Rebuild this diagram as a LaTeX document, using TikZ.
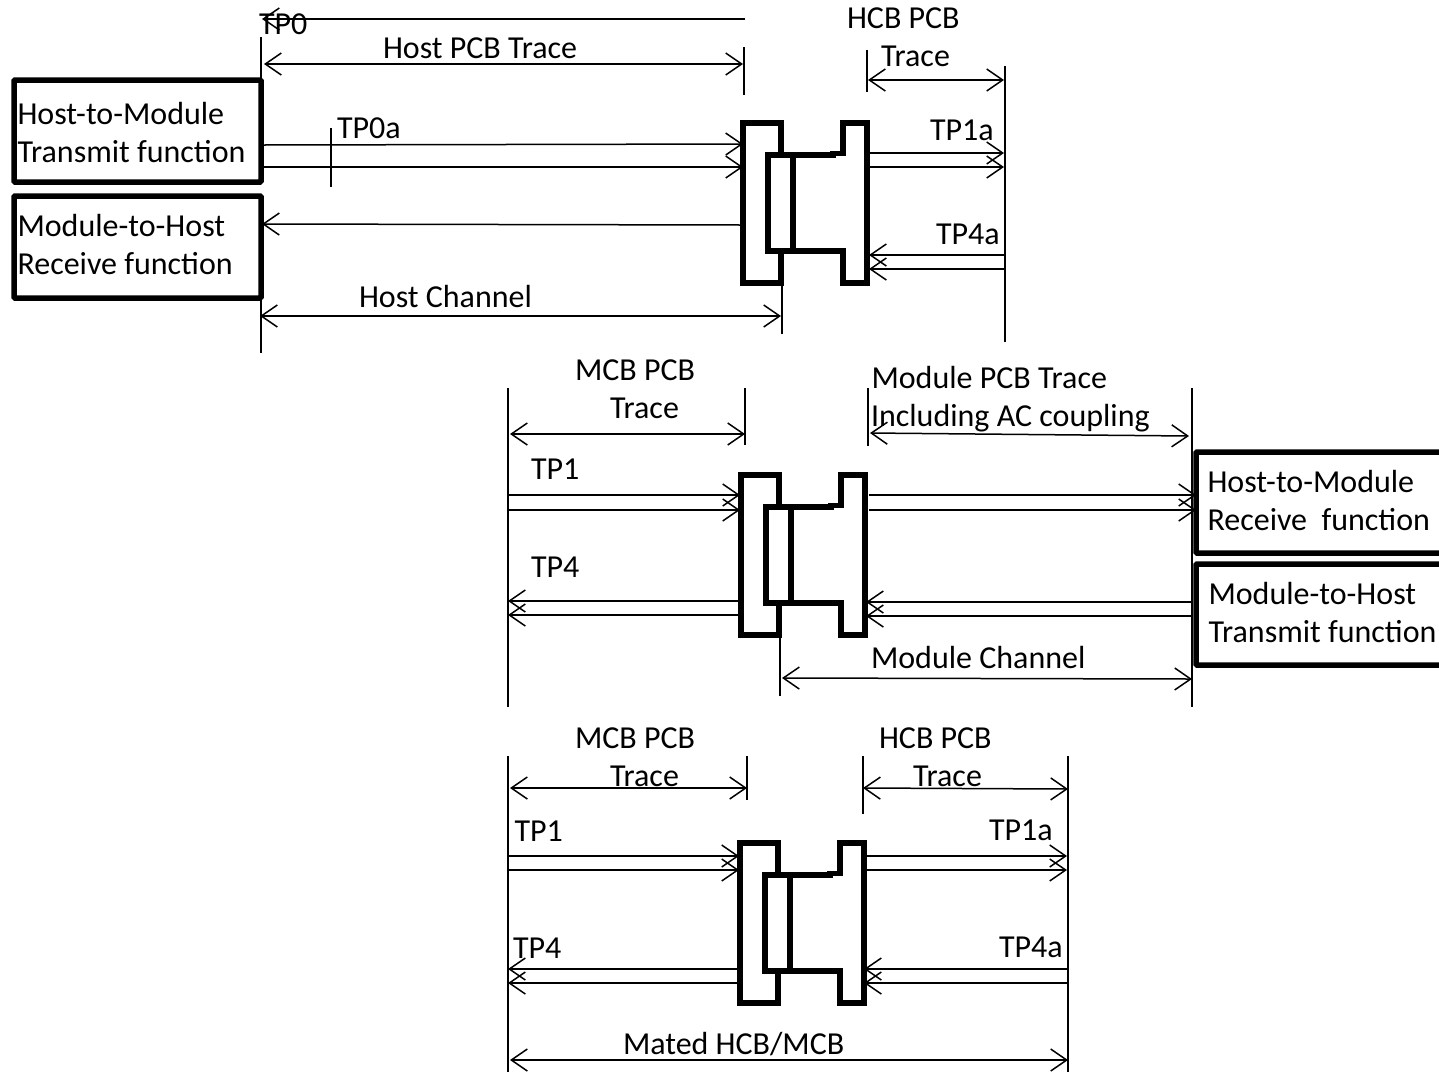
\documentclass[tikz,border=0pt]{standalone}
\usepackage{fontspec}
\setmainfont{Carlito}
\usetikzlibrary{arrows.meta}
\tikzset{
  x=1pt,y=-1pt,
  wire/.style={line width=1.5pt,black},
  sig/.style={wire,-{Straight Barb[length=16pt,width=22pt,line width=1.5pt]}},
  dim/.style={wire,{Straight Barb[length=16pt,width=22pt,line width=1.5pt]}-{Straight Barb[length=16pt,width=22pt,line width=1.5pt]}},
  ref/.style={line width=2.4pt,black},
  thin ref/.style={line width=1.6pt,black},
  fbox/.style={draw=black,line width=5.5pt,rounded corners=1pt,fill=white,inner sep=0pt,outer sep=0pt,anchor=north west},
  conn/.style={draw=black,line width=5.5pt,fill=white,line join=miter},
  lbl/.style={font=\fontsize{32}{38}\selectfont,anchor=base west,inner sep=0pt,outer sep=0pt,text=black},
}
% #1 name prefix, #2 x offset of left part, #3 y offset
\newcommand{\matedpair}[3]{%
  \begin{scope}[shift={(#2,#3)}]
    \draw[conn] (743,123) rectangle (781,283);
    \draw[conn] (843,153.5) -- (843,123) -- (867,123) -- (867,283) -- (843,283) -- (843,251) -- (793,251) -- (793,155) -- (833,155) -- (833,153.5) -- cycle;
    \fill[white] (796,158) rectangle (850,248);
    \draw[conn] (768,155) rectangle (793,251);
  \end{scope}}
\begin{document}
\begin{tikzpicture}
\useasboundingbox (0,0) rectangle (1439,1072);
\fill[white] (0,0) rectangle (1439,1072);

% function boxes
\node[fbox,minimum width=247pt,minimum height=102pt] (txbox) at (14,80) {};
\node[fbox,minimum width=247pt,minimum height=102pt] (rxbox) at (14,196) {};
\node[fbox,minimum width=260pt,minimum height=101pt] (mrxbox) at (1196,452) {};
\node[fbox,minimum width=260pt,minimum height=101pt] (mtxbox) at (1196,564) {};

% section 1 coordinates
\coordinate (a0) at (745,19); \coordinate (a1) at (262,19);
\coordinate (v1t) at (261,37); \coordinate (v1b) at (261,80);
\coordinate (v1c) at (261,298); \coordinate (v1d) at (261,353);
\coordinate (v2t) at (744,47); \coordinate (v2b) at (744,95);
\coordinate (v3t) at (867,50); \coordinate (v3b) at (867,92);
\coordinate (v4t) at (1005,66); \coordinate (v4b) at (1005,342);
\coordinate (v5t) at (782,284); \coordinate (v5b) at (782,334);
\coordinate (tick1) at (331,128); \coordinate (tick2) at (331,187);
\draw[thin ref] (v1t) -- (v1b);
\draw[thin ref] (v1c) -- (v1d);
\draw[thin ref] (v2t) -- (v2b);
\draw[thin ref] (v3t) -- (v3b);
\draw[ref] (v4t) -- (v4b);
\draw[thin ref] (v5t) -- (v5b);
\draw[thin ref] (tick1) -- (tick2);
\draw[sig] (a0) -- (a1);
\coordinate (d1a) at (264,64); \coordinate (d1b) at (743,64);
\coordinate (d2a) at (868,80); \coordinate (d2b) at (1004,80);
\coordinate (d3a) at (260,316); \coordinate (d3b) at (781,316);
\draw[dim] (d1a) -- (d1b);
\draw[dim] (d2a) -- (d2b);
\draw[dim] (d3a) -- (d3b);
\coordinate (s1) at (262,145); \coordinate (s1e) at (743,144);
\coordinate (s2) at (262,167); \coordinate (s2e) at (743,167);
\coordinate (s3) at (743,225); \coordinate (s3e) at (262,224);
\coordinate (s4) at (869,153); \coordinate (s4e) at (1004,153);
\coordinate (s5) at (869,167); \coordinate (s5e) at (1004,167);
\coordinate (s6) at (1005,255); \coordinate (s6e) at (869,255);
\coordinate (s7) at (1005,269); \coordinate (s7e) at (869,269);
\foreach \p in {s1,s2,s3,s4,s5,s6,s7}{\draw[sig] (\p) -- (\p e);}
\matedpair{A}{0}{0}

% section 2
\coordinate (w1t) at (508,388); \coordinate (w1b) at (508,707);
\coordinate (w2t) at (745,388); \coordinate (w2b) at (745,445);
\coordinate (w3t) at (868,388); \coordinate (w3b) at (868,446);
\coordinate (w4t) at (1192,388); \coordinate (w4b) at (1192,707);
\coordinate (w5t) at (780,636); \coordinate (w5b) at (780,696);
\draw[ref] (w1t) -- (w1b);
\draw[thin ref] (w2t) -- (w2b);
\draw[thin ref] (w3t) -- (w3b);
\draw[thin ref] (w4t) -- (w4b);
\draw[thin ref] (w5t) -- (w5b);
\coordinate (e1a) at (510,434); \coordinate (e1b) at (745,434);
\coordinate (e2a) at (870,433); \coordinate (e2b) at (1189,436);
\coordinate (e3a) at (782,678); \coordinate (e3b) at (1192,679);
\draw[dim] (e1a) -- (e1b);
\draw[dim] (e2a) -- (e2b);
\draw[dim] (e3a) -- (e3b);
\coordinate (t1) at (508,495); \coordinate (t1e) at (740,495);
\coordinate (t2) at (508,510); \coordinate (t2e) at (740,510);
\coordinate (t3) at (740,601); \coordinate (t3e) at (508,601);
\coordinate (t4) at (740,615); \coordinate (t4e) at (508,615);
\coordinate (t5) at (869,495); \coordinate (t5e) at (1196,495);
\coordinate (t6) at (869,510); \coordinate (t6e) at (1196,510);
\coordinate (t7) at (1192,602); \coordinate (t7e) at (866,602);
\coordinate (t8) at (1192,616); \coordinate (t8e) at (866,616);
\foreach \p in {t1,t2,t3,t4,t5,t6,t7,t8}{\draw[sig] (\p) -- (\p e);}
\matedpair{B}{-2}{352}

% section 3
\coordinate (u1t) at (508,756); \coordinate (u1b) at (508,1072);
\coordinate (u2t) at (747,756); \coordinate (u2b) at (747,800);
\coordinate (u3t) at (863,756); \coordinate (u3b) at (863,814);
\coordinate (u4t) at (1068,756); \coordinate (u4b) at (1068,1072);
\draw[ref] (u1t) -- (u1b);
\draw[thin ref] (u2t) -- (u2b);
\draw[thin ref] (u3t) -- (u3b);
\draw[ref] (u4t) -- (u4b);
\coordinate (f1a) at (510,788); \coordinate (f1b) at (747,788);
\coordinate (f2a) at (863,788); \coordinate (f2b) at (1068,789);
\coordinate (f3a) at (510,1060); \coordinate (f3b) at (1068,1060);
\draw[dim] (f1a) -- (f1b);
\draw[dim] (f2a) -- (f2b);
\draw[dim] (f3a) -- (f3b);
\coordinate (g1) at (508,856); \coordinate (g1e) at (739,856);
\coordinate (g2) at (508,870); \coordinate (g2e) at (739,870);
\coordinate (g3) at (739,969); \coordinate (g3e) at (508,969);
\coordinate (g4) at (739,983); \coordinate (g4e) at (508,983);
\coordinate (g5) at (863,856); \coordinate (g5e) at (1067,856);
\coordinate (g6) at (863,870); \coordinate (g6e) at (1067,870);
\coordinate (g7) at (1068,969); \coordinate (g7e) at (864,969);
\coordinate (g8) at (1068,983); \coordinate (g8e) at (864,983);
\foreach \p in {g1,g2,g3,g4,g5,g6,g7,g8}{\draw[sig] (\p) -- (\p e);}
\matedpair{C}{-3}{720}

% labels
\node[lbl] (l1) at (259,34) {TP0};
\node[lbl] (l2) at (383,58.5) {Host PCB Trace};
\node[lbl] (l3) at (847,28.5) {HCB PCB};
\node[lbl] (l4) at (881,66.5) {Trace};
\node[lbl] (l5) at (17.5,124.5) {Host-to-Module};
\node[lbl] (l6) at (17.5,162.5) {Transmit function};
\node[lbl] (l7) at (17.5,236.5) {Module-to-Host};
\node[lbl] (l8) at (17.5,274.5) {Receive function};
\node[lbl] (l9) at (337,138.5) {TP0a};
\node[lbl] (l10) at (930,140.5) {TP1a};
\node[lbl] (l11) at (936,244.5) {TP4a};
\node[lbl] (l12) at (359,307.5) {Host Channel};
\node[lbl] (l13) at (575,380.5) {MCB PCB};
\node[lbl] (l14) at (610,418.5) {Trace};
\node[lbl] (l15) at (871.5,388.5) {Module PCB Trace};
\node[lbl] (l16) at (871,426.5) {Including AC coupling};
\node[lbl] (l17) at (531,479.5) {TP1};
\node[lbl] (l18) at (531,577.5) {TP4};
\node[lbl] (l19) at (1207.5,492.5) {Host-to-Module};
\node[lbl] (l20) at (1207.5,530.5) {Receive\ \ function};
\node[lbl] (l21) at (1208.5,604.5) {Module-to-Host};
\node[lbl] (l22) at (1208.5,642.5) {Transmit function};
\node[lbl] (l23) at (871,668.5) {Module Channel};
\node[lbl] (l24) at (575,748.5) {MCB PCB};
\node[lbl] (l25) at (610,786.5) {Trace};
\node[lbl] (l26) at (879,748.5) {HCB PCB};
\node[lbl] (l27) at (913,786.5) {Trace};
\node[lbl] (l28) at (514.5,841.5) {TP1};
\node[lbl] (l29) at (989,840.5) {TP1a};
\node[lbl] (l30) at (513,958.5) {TP4};
\node[lbl] (l31) at (999,957.5) {TP4a};
\node[lbl] (l32) at (623,1054.5) {Mated HCB/MCB};
\end{tikzpicture}
\end{document}
